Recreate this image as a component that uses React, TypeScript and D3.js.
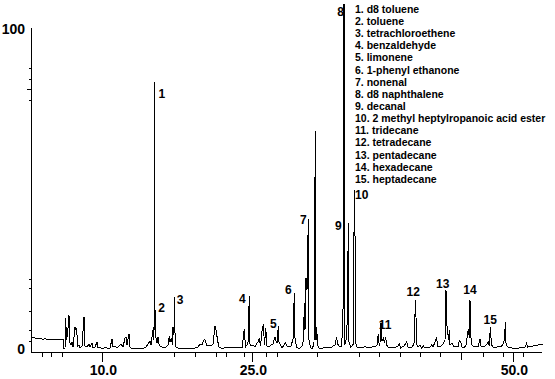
import React from "react";
import * as d3 from "d3";

// Retention time (min) and relative abundance (%) of the total ion trace
const traceTime: number[] = [
  2.87, 2.97, 3.27, 3.57, 3.77, 4.07, 4.27, 4.57, 4.77, 5.07, 5.27, 5.57, 5.77, 6.07, 6.17, 6.27, 6.34, 6.42, 6.52, 6.67,
  6.77, 6.87, 6.97, 7.07, 7.27, 7.37, 7.44, 7.52, 7.67, 7.77, 7.97, 8.17, 8.27, 8.47, 8.67, 8.77, 8.97, 9.07, 9.27, 9.47,
  9.57, 9.77, 9.97, 10.17, 10.37, 10.57, 10.77, 10.97, 11.07, 11.27, 11.47, 11.67, 11.87, 12.07, 12.27, 12.37, 12.47, 12.67, 12.77, 12.97,
  13.17, 13.37, 13.57, 13.77, 13.97, 14.17, 14.37, 14.57, 14.77, 14.87, 14.94, 15.02, 15.1, 15.17, 15.2, 15.24, 15.3, 15.37, 15.47, 15.57,
  15.67, 15.77, 15.97, 16.17, 16.37, 16.57, 16.7, 16.77, 16.92, 17.0, 17.07, 17.17, 17.21, 17.27, 17.37, 17.57, 17.77, 18.27, 18.77, 19.27,
  19.57, 19.77, 19.97, 20.2, 20.32, 20.47, 20.67, 20.87, 21.07, 21.27, 21.4, 21.52, 21.67, 21.87, 22.17, 22.47, 22.77, 23.07, 23.37, 23.67,
  23.97, 24.2, 24.32, 24.47, 24.57, 24.7, 24.77, 24.87, 25.07, 25.27, 25.47, 25.6, 25.7, 25.82, 25.97, 26.1, 26.22, 26.34, 26.47, 26.67,
  26.87, 27.07, 27.27, 27.37, 27.47, 27.6, 27.67, 27.82, 27.97, 28.17, 28.32, 28.47, 28.67, 28.87, 29.07, 29.2, 29.27, 29.42, 29.57, 29.77,
  29.97, 30.12, 30.2, 30.27, 30.37, 30.47, 30.6, 30.67, 30.82, 30.97, 31.17, 31.3, 31.37, 31.44, 31.52, 31.67, 31.87, 32.07, 32.27, 32.47,
  32.67, 32.87, 33.07, 33.27, 33.44, 33.52, 33.67, 33.87, 34.02, 34.1, 34.17, 34.24, 34.37, 34.44, 34.5, 34.6, 34.67, 34.82, 34.97, 35.12,
  35.19, 35.25, 35.32, 35.47, 35.67, 35.87, 36.07, 36.27, 36.47, 36.67, 36.87, 37.07, 37.27, 37.47, 37.6, 37.7, 37.77, 37.87, 37.97, 38.1,
  38.22, 38.34, 38.42, 38.57, 38.77, 38.97, 39.17, 39.37, 39.57, 39.7, 39.82, 39.97, 40.17, 40.44, 40.57, 40.77, 40.97, 41.17, 41.27, 41.34,
  41.42, 41.57, 41.77, 41.92, 42.1, 42.27, 42.47, 42.67, 42.94, 43.07, 43.34, 43.44, 43.52, 43.67, 43.87, 44.07, 44.27, 44.37, 44.45, 44.52,
  44.62, 44.7, 44.77, 44.97, 45.17, 45.37, 45.57, 45.7, 45.84, 45.97, 46.17, 46.37, 46.6, 46.7, 46.77, 46.84, 46.97, 47.17, 47.37, 47.57,
  47.77, 47.87, 48.07, 48.27, 48.47, 48.6, 48.7, 48.8, 48.92, 49.07, 49.27, 49.47, 49.67, 49.87, 50.07, 50.22, 50.3, 50.37, 50.47, 50.67,
  50.87, 51.07, 51.27, 51.47, 51.67, 51.87, 52.07, 52.27, 52.44, 52.52, 52.77, 53.07, 53.37, 53.67, 53.87, 54.07,
];
const traceAbundance: number[] = [
  4.4, 4.1, 3.75, 3.4, 3.6, 3.3, 3.5, 3.3, 3.4, 3.2, 3.4, 3.3, 3.2, 3.3, 0.3, 0.6, 10.0, 3.1, 4.7, 10.9,
  2.2, 1.6, 2.5, 0.9, 7.2, 6.25, 6.9, 1.25, 1.6, 0.6, 1.25, 10.3, 1.25, 0.9, 1.9, 0.9, 2.2, 0.6, 0.9, 2.5,
  0.6, 0.9, 0.3, 0.6, 0.9, 0.3, 0.6, 3.4, 0.9, 1.25, 0.6, 1.25, 1.9, 0.9, 3.75, 4.1, 1.6, 5.0, 0.9, 0.3,
  0.6, 0.3, 0.6, 0.3, 0.6, 0.6, 0.9, 1.9, 2.8, 1.6, 3.4, 5.3, 6.9, 3.1, 83.75, 6.25, 12.5, 3.75, 2.2, 4.1,
  1.9, 1.25, 0.9, 0.6, 0.9, 1.6, 4.4, 2.5, 3.75, 1.6, 7.2, 4.7, 16.6, 5.3, 0.9, 0.6, 0.3, 0.6, 0.45, 0.6,
  0.9, 1.9, 1.6, 3.4, 2.8, 1.25, 1.6, 1.25, 1.9, 7.5, 5.9, 3.1, 0.9, 0.6, 0.6, 0.9, 0.6, 0.9, 0.6, 0.9,
  0.6, 6.6, 0.9, 1.6, 2.2, 16.9, 1.9, 1.25, 1.6, 0.9, 2.2, 2.5, 3.75, 1.25, 5.9, 8.1, 1.6, 6.9, 1.25, 0.9,
  1.6, 1.9, 4.1, 2.8, 2.2, 7.5, 2.5, 1.6, 0.6, 1.6, 2.2, 1.25, 0.9, 1.25, 3.4, 17.8, 3.75, 0.9, 0.6, 0.6,
  1.25, 3.1, 14.7, 6.25, 22.5, 18.75, 40.9, 3.1, 0.9, 0.3, 1.9, 68.4, 3.1, 7.2, 1.6, 0.6, 0.3, 0.6, 0.9, 0.6,
  0.9, 0.6, 1.25, 1.6, 4.1, 1.9, 1.25, 0.9, 5.3, 17.2, 108, 1.6, 3.1, 5.9, 9.4, 39.7, 2.5, 0.9, 1.25, 1.9,
  49, 50, 2.5, 0.9, 0.6, 0.9, 0.6, 1.25, 0.6, 0.9, 0.6, 1.25, 0.9, 1.6, 5.0, 1.25, 2.2, 8.4, 2.8, 3.75,
  2.2, 4.1, 1.6, 0.9, 0.6, 0.9, 0.6, 0.9, 1.25, 1.9, 0.6, 0.9, 1.25, 2.5, 0.9, 0.6, 0.9, 1.9, 11.25, 15.6,
  1.9, 0.9, 1.6, 0.6, 1.25, 0.6, 0.9, 0.6, 1.6, 0.9, 3.1, 3.75, 1.25, 0.9, 1.25, 1.9, 3.1, 18.75, 8.1, 6.25,
  3.1, 6.25, 1.6, 2.2, 0.9, 1.25, 0.9, 3.1, 2.5, 0.9, 0.6, 1.6, 6.6, 3.75, 15.6, 4.4, 1.6, 0.9, 1.25, 0.9,
  3.4, 1.25, 0.9, 1.25, 1.9, 2.5, 1.25, 7.2, 1.6, 0.9, 0.6, 0.9, 1.25, 0.9, 1.9, 3.1, 8.75, 2.2, 1.25, 0.6,
  0.9, 0.3, 0.6, 0.3, 0.6, 0.9, 0.6, 0.9, 2.2, 0.9, 1.25, 1.25, 1.4, 1.6, 1.75, 1.9,
];

// Peak annotations
const peakLabels: string[] = ["1", "2", "3", "4", "5", "6", "7", "8", "9", "10", "11", "12", "13", "14", "15"];
const peakTime: number[] = [15.2, 15.3, 17.21, 24.7, 27.6, 29.2, 30.6, 34.17, 34.6, 35.25, 37.87, 41.34, 44.37, 46.77, 48.8];
const peakAbundance: number[] = [83.75, 12.5, 16.6, 16.9, 7.5, 17.8, 40.9, 108, 39.7, 50, 8.4, 15.6, 18.75, 15.6, 7.2];

const compounds: string[] = [
  "1. d8 toluene",
  "2. toluene",
  "3. tetrachloroethene",
  "4. benzaldehyde",
  "5. limonene",
  "6. 1-phenyl ethanone",
  "7. nonenal",
  "8. d8 naphthalene",
  "9. decanal",
  "10. 2 methyl heptylropanoic acid ester",
  "11. tridecane",
  "12. tetradecane",
  "13. pentadecane",
  "14. hexadecane",
  "15. heptadecane",
];

// Axis ticks
const xTickValues: number[] = [3.94, 4.87, 5.94, 10, 17.17, 19.3, 21.34, 22.34, 24.2, 25, 26.37, 27.44, 31.44, 35.64, 37.7, 39.77, 41.77, 43.77, 45.84, 48.04, 50.1, 51.1, 52.04];
const xTickLabels: string[] = ["", "", "", "10.0", "", "", "", "", "", "25.0", "", "", "", "", "", "", "", "", "", "", "", "50.0", ""];
const yTickValues: number[] = [88, 84.6, 81.5, 78.1, 22.1, 19.3, 12.3, 6.25, 2.9];
const yAxisLabels: string[] = ["0", "100"];
const yAxisLabelValues: number[] = [0, 100];

// label offsets (px) relative to peak apex
const labelOffset: [number, number][] = [
  [7.5, 13], [6.4, -1], [5.6, 4], [-7, 4], [-5, -1], [-6, -2], [-5, 2], [-3.5, 8], [-10, 4], [7, 6],
  [4, 3], [-2.4, -7], [-3.3, -5], [0, -9], [0, -6],
];

export default function App() {
  const W = 555;
  const H = 379;
  const x = d3.scaleLinear().domain([10, 25]).range([102.3, 252.3]);
  const y = d3.scaleLinear().domain([0, 100]).range([350, 30]);
  const axisX = 31;
  const axisY = 352;
  const xEnd = 542;

  const pts: [number, number][] = traceTime.map((t, i) => [t, traceAbundance[i]]);
  const line = d3
    .line<[number, number]>()
    .x((d) => x(d[0]))
    .y((d) => y(d[1]));

  const font = "'Liberation Sans', Arial, Helvetica, sans-serif";
  const longTicks = new Set([10, 25, 51.1, 45.84]);

  return (
    <svg
      width={W}
      height={H}
      style={{ position: "absolute", left: 0, top: 0, background: "#fff" }}
      shapeRendering="crispEdges"
    >
      <rect x={0} y={0} width={W} height={H} fill="#fff" />
      {/* trace */}
      <path d={line(pts) || ""} fill="none" stroke="#000" strokeWidth={1} shapeRendering="crispEdges" />
      {/* axes */}
      <line x1={axisX + 0.5} x2={axisX + 0.5} y1={28} y2={axisY} stroke="#000" />
      <line x1={axisX} x2={xEnd} y1={axisY + 0.5} y2={axisY + 0.5} stroke="#000" />
      {xTickValues.map((v, i) => {
        const px = Math.round(x(v)) + 0.5;
        const len = longTicks.has(v) ? (v === 45.84 ? 8 : 10) : 5;
        return (
          <g key={"xt" + i}>
            <line x1={px} x2={px} y1={axisY} y2={axisY + len} stroke="#000" />
            {xTickLabels[i] && (
              <text
                x={x(v) + 1}
                y={371}
                textAnchor="middle"
                dominantBaseline="middle"
                fontFamily={font}
                fontWeight="bold"
                fontSize={14}
              >
                {xTickLabels[i]}
              </text>
            )}
          </g>
        );
      })}
      {yTickValues.map((v, i) => {
        const py = Math.round(y(v)) + 0.5;
        const len = v === 81.5 ? 4 : 2;
        return <line key={"yt" + i} x1={axisX - len} x2={axisX} y1={py} y2={py} stroke="#000" />;
      })}
      {yAxisLabelValues.map((v, i) => (
        <text
          key={"yl" + i}
          x={25}
          y={y(v)}
          textAnchor="end"
          dominantBaseline="middle"
          fontFamily={font}
          fontWeight="bold"
          fontSize={14}
        >
          {yAxisLabels[i]}
        </text>
      ))}
      {/* peak labels */}
      {peakLabels.map((lab, i) => (
        <text
          key={"pl" + i}
          x={x(peakTime[i]) + labelOffset[i][0]}
          y={y(peakAbundance[i]) + labelOffset[i][1]}
          textAnchor="middle"
          dominantBaseline="middle"
          fontFamily={font}
          fontWeight="bold"
          fontSize={12}
        >
          {lab}
        </text>
      ))}
      {/* compound legend */}
      {compounds.map((c, i) => (
        <text
          key={"cp" + i}
          x={355}
          y={10 + i * 12.15}
          dominantBaseline="middle"
          fontFamily={font}
          fontWeight="bold"
          fontSize={10.5}
        >
          {c}
        </text>
      ))}
    </svg>
  );
}
